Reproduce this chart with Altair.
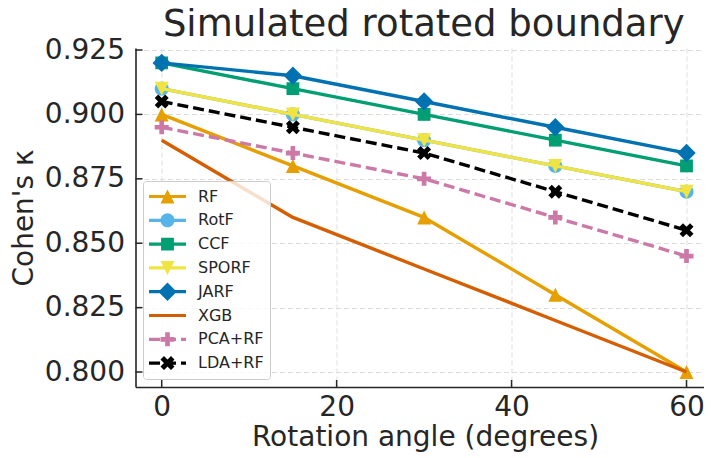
import math
import altair as alt
import pandas as pd

# ---------------- data ----------------
angles = [0, 15, 30, 45, 60]
series_names = ["RF", "RotF", "CCF", "SPORF", "JARF", "XGB", "PCA+RF", "LDA+RF"]
rf = [0.900, 0.880, 0.860, 0.830, 0.800]
rotf = [0.910, 0.900, 0.890, 0.880, 0.870]
ccf = [0.920, 0.910, 0.900, 0.890, 0.880]
sporf = [0.910, 0.900, 0.890, 0.880, 0.870]
jarf = [0.920, 0.915, 0.905, 0.895, 0.885]
xgb = [0.890, 0.860, 0.840, 0.820, 0.800]
pca_rf = [0.895, 0.885, 0.875, 0.860, 0.845]
lda_rf = [0.905, 0.895, 0.885, 0.870, 0.855]
series_values = [rf, rotf, ccf, sporf, jarf, xgb, pca_rf, lda_rf]

y_ticks = [0.800, 0.825, 0.850, 0.875, 0.900, 0.925]
x_ticks = [0, 20, 40, 60]

# ---------------- styles ----------------
series_colors = ["#E69F00", "#56B4E9", "#009E73", "#F0E442",
                 "#0072B2", "#D55E00", "#CC79A7", "#000000"]
series_markers = ["triangle-up", "circle", "square", "triangle-down",
                  "diamond", None, "plus", "x"]
series_dashed = [False, False, False, False, False, False, True, True]

TEXT = "#262626"
FONT = "DejaVu Sans"
W, H = 568.5, 339
H_M = 7.0  # marker half size in px


def marker_points(kind):
    h = H_M
    if kind == "triangle-up":
        return [(0, -h), (h, h), (-h, h)]
    if kind == "triangle-down":
        return [(0, h), (-h, -h), (h, -h)]
    if kind == "square":
        s = 6.4
        return [(-s, -s), (s, -s), (s, s), (-s, s)]
    if kind == "diamond":
        d = 9.2
        return [(0, -d), (d, 0), (0, d), (-d, 0)]
    if kind == "circle":
        return [(h * math.cos(2 * math.pi * i / 36), h * math.sin(2 * math.pi * i / 36)) for i in range(36)]
    if kind == "plus":
        k = h / 6
        pts = [(-2, -6), (2, -6), (2, -2), (6, -2), (6, 2), (2, 2), (2, 6), (-2, 6), (-2, 2), (-6, 2), (-6, -2), (-2, -2)]
        return [(x * k, y * k) for x, y in pts]
    if kind == "x":
        k = h / 6
        pts = [(-3, -6), (0, -3), (3, -6), (6, -3), (3, 0), (6, 3), (3, 6), (0, 3), (-3, 6), (-6, 3), (-3, 0), (-6, -3)]
        return [(x * k, y * k) for x, y in pts]
    return []


def poly(pts, scale=1.0):
    return "M" + "L".join(f"{x / scale:.4f},{y / scale:.4f}" for x, y in pts) + "Z"


# legend handle: 37 px line + marker, expressed in symbol units
U = 18.5
LEG_SIZE = (2 * U) ** 2


def legend_path(kind, dashed):
    hw = 1.6
    if dashed:
        segs = [(-18.5, -7.5), (-2.5, 8.5), (13.5, 18.5)]
    else:
        segs = [(-18.5, 18.5)]
    p = ""
    for a, b in segs:
        p += poly([(a, -hw), (b, -hw), (b, hw), (a, hw)], U)
    if kind:
        p += poly(marker_points(kind), U)
    return p


legend_shapes = [legend_path(k, d) for k, d in zip(series_markers, series_dashed)]

rows = []
for name, vals in zip(series_names, series_values):
    for a, v in zip(angles, vals):
        rows.append({"angle": a, "kappa": v, "series": name})
df = pd.DataFrame(rows)

xscale = alt.Scale(domain=[-2.995, 62.0], nice=False, zero=False)
yscale = alt.Scale(domain=[0.79418, 0.92578], nice=False, zero=False)

x_axis = alt.Axis(values=x_ticks, title="Rotation angle (degrees)", format="d",
                  labelPadding=6, titleX=289.5, titleY=58.5, titleBaseline="alphabetic",
                  labelFlush=False)
y_axis = alt.Axis(values=y_ticks, title="Cohen's κ", format=".3f",
                  labelPadding=11, titleX=-103.5, titleY=H / 2, titleAngle=270,
                  titleBaseline="alphabetic", titleAlign="center")

X = alt.X("angle:Q", scale=xscale, axis=x_axis)
Y = alt.Y("kappa:Q", scale=yscale, axis=y_axis)

layers = []
for name, kind, col, dashed in zip(series_names, series_markers, series_colors, series_dashed):
    sub = df[df.series == name]
    line_kw = dict(strokeWidth=3.4, strokeJoin="round", color=col)
    if dashed:
        line_kw["strokeDash"] = [11, 5]
    layers.append(alt.Chart(sub).mark_line(**line_kw).encode(x=X, y=Y))
    if kind:
        layers.append(
            alt.Chart(sub).mark_point(shape=poly(marker_points(kind)), size=4, color=col,
                                      filled=True, opacity=1, strokeWidth=0).encode(x=X, y=Y)
        )

leg = alt.Legend(title=None, orient="none", legendX=7.5, legendY=133, padding=6,
                 labelFontSize=16, labelFont=FONT, labelColor=TEXT,
                 symbolSize=LEG_SIZE, symbolStrokeWidth=0, rowPadding=4.8, clipHeight=19,
                 labelOffset=12, fillColor="rgba(255,255,255,0.8)",
                 strokeColor="#cccccc", cornerRadius=3, labelLimit=300)

# legend-only layer: points of size 0 (invisible), carries the legend
legend_layer = alt.Chart(df).mark_point(
    filled=True, opacity=1, strokeWidth=0, size=0).encode(
    x=X, y=Y,
    color=alt.Color("series:N", scale=alt.Scale(domain=series_names, range=series_colors), legend=leg),
    shape=alt.Shape("series:N", scale=alt.Scale(domain=series_names, range=legend_shapes), legend=leg),
)
layers.append(legend_layer)

# inward tick marks
xt = pd.DataFrame({"angle": x_ticks})
yt = pd.DataFrame({"kappa": y_ticks})
layers.append(alt.Chart(xt).mark_rule(color=TEXT, strokeWidth=1.5).encode(
    x=X, y=alt.value(H), y2=alt.value(H - 7)))
layers.append(alt.Chart(yt).mark_rule(color=TEXT, strokeWidth=1.5).encode(
    y=Y, x=alt.value(0), x2=alt.value(7)))

chart = alt.layer(*layers).properties(
    width=W, height=H,
    title=alt.TitleParams("Simulated rotated boundary", fontSize=37, font=FONT, color=TEXT,
                          fontWeight="normal", anchor="middle", frame="group", dy=11.5, dx=4),
    padding={"left": 127.5, "top": 40, "right": 0, "bottom": 70},
    autosize=alt.AutoSizeParams(type="none"),
).configure_view(stroke=None).configure_axis(
    domainColor=TEXT, domainWidth=1.6,
    grid=True, gridColor="#dddddd", gridDash=[5, 3], gridWidth=1,
    labelFont=FONT, labelFontSize=28, labelColor=TEXT,
    titleFont=FONT, titleFontSize=28, titleColor=TEXT, titleFontWeight="normal",
    ticks=False, tickSize=0,
)

chart.save("out.html", embed_options={"renderer": "svg", "actions": False})
